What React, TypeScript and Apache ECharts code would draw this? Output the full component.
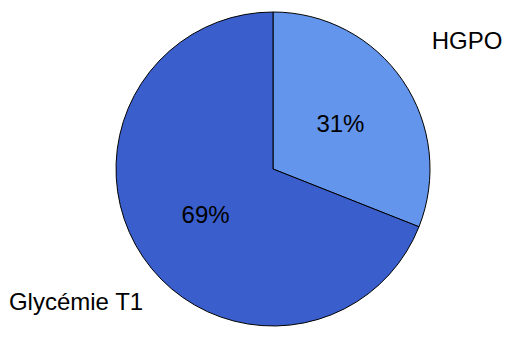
import React, { useEffect, useRef } from "react";
import * as echarts from "echarts";

const categories = ["HGPO", "Glycémie T1"];
const values = [31, 69];
const colors = ["#6495ED", "#3A5FCD"];

export default function App() {
  const ref = useRef<HTMLDivElement>(null);
  useEffect(() => {
    if (!ref.current) return;
    const chart = echarts.init(ref.current, null, { renderer: "svg" });
    chart.setOption({
      animation: false,
      backgroundColor: "#ffffff",
      graphic: [
        {
          type: "text",
          x: 467,
          y: 40,
          style: {
            text: categories[0],
            font: "24px 'Liberation Sans', Arial, sans-serif",
            fill: "#000",
            align: "center",
            verticalAlign: "middle",
          },
        },
        {
          type: "text",
          x: 76,
          y: 301,
          style: {
            text: categories[1],
            font: "24px 'Liberation Sans', Arial, sans-serif",
            fill: "#000",
            align: "center",
            verticalAlign: "middle",
          },
        },
      ],
      series: [
        {
          type: "pie",
          center: [273, 169],
          radius: [0, 157],
          startAngle: 90,
          clockwise: true,
          silent: true,
          label: {
            show: true,
            position: "inside",
            formatter: (p: any) => `${p.value}%`,
            fontFamily: "'Liberation Sans', Arial, sans-serif",
            fontSize: 24,
            color: "#000",
          },
          labelLine: { show: false },
          itemStyle: { borderColor: "#000", borderWidth: 1 },
          data: categories.map((name, i) => ({
            name,
            value: values[i],
            itemStyle: { color: colors[i] },
          })),
        },
      ],
    });
    return () => chart.dispose();
  }, []);
  return (
    <div
      ref={ref}
      style={{ position: "absolute", left: 0, top: 0, width: 509, height: 337 }}
    />
  );
}
